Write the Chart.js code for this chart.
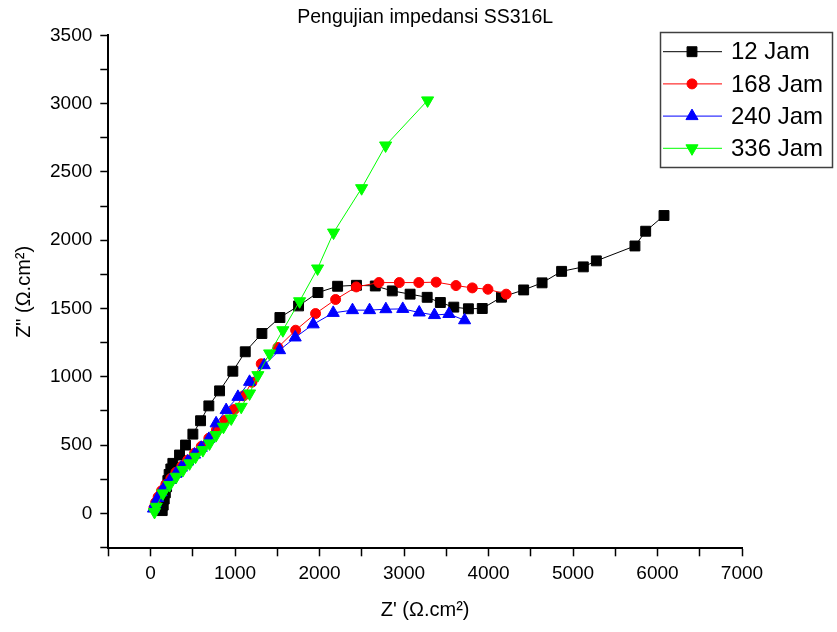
<!DOCTYPE html>
<html lang="id">
<head>
<meta charset="UTF-8">
<title>Pengujian impedansi SS316L</title>
<script src="https://cdn.jsdelivr.net/npm/chart.js"></script>
<style>
  body { margin: 0; background: #fff; }
  #wrap { width: 837px; height: 632px; }
</style>
</head>
<body>
<div id="wrap"><canvas id="nyquist" width="837" height="632"></canvas></div>
<script>
// Z' (x) dan Z'' (y), Ω.cm²
const seriesNames = ['12 Jam', '168 Jam', '240 Jam', '336 Jam'];

const jam12 = [
  [138, 20], [150, 60], [162, 105], [175, 150], [190, 195], [205, 240], [220, 285],
  [240, 325], [264, 366], [343, 427], [414, 500], [501, 580], [592, 678], [690, 787],
  [817, 897], [974, 1041], [1121, 1183], [1318, 1317], [1531, 1434], [1752, 1519],
  [1981, 1617], [2214, 1663], [2437, 1670], [2660, 1665], [2861, 1629], [3072, 1605],
  [3274, 1582], [3430, 1544], [3589, 1510], [3762, 1498], [3926, 1500], [4153, 1583],
  [4416, 1636], [4634, 1688], [4865, 1772], [5122, 1805], [5276, 1849], [5733, 1958],
  [5860, 2066], [6077, 2181]
];
const jam168 = [
  [40, 40], [60, 80], [90, 120], [130, 165], [180, 210], [240, 255], [300, 300],
  [370, 345], [440, 390], [520, 440], [600, 490], [690, 550], [780, 610], [880, 680],
  [990, 760], [1100, 860], [1200, 960], [1310, 1095], [1507, 1215], [1717, 1341],
  [1953, 1463], [2190, 1566], [2435, 1658], [2703, 1690], [2944, 1690], [3175, 1690],
  [3380, 1693], [3615, 1668], [3808, 1651], [3993, 1641], [4209, 1605]
];
const jam240 = [
  [35, 35], [55, 72], [85, 112], [125, 155], [175, 200], [235, 245], [300, 290],
  [365, 335], [440, 380], [520, 430], [600, 480], [690, 545], [776, 659], [895, 756],
  [1034, 853], [1172, 963], [1345, 1085], [1527, 1195], [1712, 1288], [1925, 1384],
  [2162, 1468], [2390, 1488], [2592, 1488], [2785, 1495], [2985, 1497], [3180, 1471],
  [3360, 1452], [3531, 1460], [3717, 1414]
];
const jam336 = [
  [47, 10], [67, 48], [146, 146], [225, 207], [304, 268], [383, 317], [462, 366],
  [532, 414], [619, 463], [698, 512], [776, 573], [863, 634], [955, 695], [1073, 780],
  [1172, 878], [1270, 1012], [1409, 1171], [1566, 1341], [1764, 1553], [1977, 1793],
  [2166, 2056], [2498, 2381], [2782, 2694], [3279, 3024]
];

const xTicks = [-500, 0, 500, 1000, 1500, 2000, 2500, 3000, 3500, 4000, 4500, 5000, 5500, 6000, 6500, 7000];
const yTicks = [-250, 0, 250, 500, 750, 1000, 1250, 1500, 1750, 2000, 2250, 2500, 2750, 3000, 3250, 3500];

const fontFam = '"Liberation Sans", Arial, sans-serif';
Chart.defaults.color = '#000';
Chart.defaults.font.family = fontFam;

function toPts(arr) {
  return arr.map(p => ({ x: p[0], y: p[1] }));
}

// legenda kotak di pojok kanan atas (seperti Origin)
const boxLegend = {
  id: 'boxLegend',
  afterDraw(chart) {
    const ctx = chart.ctx;
    ctx.save();
    ctx.strokeStyle = '#404040';
    ctx.lineWidth = 1.5;
    ctx.strokeRect(660.5, 32.5, 172, 135);
    chart.data.datasets.forEach((ds, i) => {
      const y = 51.7 + i * 32.2;
      ctx.strokeStyle = ds.borderColor;
      ctx.fillStyle = ds.backgroundColor;
      ctx.lineWidth = 1;
      ctx.beginPath();
      ctx.moveTo(663, y);
      ctx.lineTo(722, y);
      ctx.stroke();
      Chart.helpers.drawPoint(ctx, {
        pointStyle: ds.pointStyle,
        radius: ds.pointRadius,
        rotation: ds.pointRotation || 0,
        borderWidth: 1
      }, 692, y);
      ctx.fillStyle = '#000';
      ctx.font = '24px ' + fontFam;
      ctx.textBaseline = 'middle';
      ctx.fillText(ds.label, 731, y + 1);
    });
    ctx.restore();
  }
};

const ctx = document.getElementById('nyquist').getContext('2d');
const nyquistChart = new Chart(ctx, {
  type: 'scatter',
  data: {
    datasets: [
      { label: seriesNames[0], data: toPts(jam12), borderColor: '#000000', backgroundColor: '#000000',
        pointStyle: 'rect', pointRadius: 7, order: 3 },
      { label: seriesNames[1], data: toPts(jam168), borderColor: '#ff0000', backgroundColor: '#ff0000',
        pointStyle: 'circle', pointRadius: 5, order: 2 },
      { label: seriesNames[2], data: toPts(jam240), borderColor: '#0000ff', backgroundColor: '#0000ff',
        pointStyle: 'triangle', pointRadius: 7, order: 1 },
      { label: seriesNames[3], data: toPts(jam336), borderColor: '#00ff00', backgroundColor: '#00ff00',
        pointStyle: 'triangle', pointRotation: 180, pointRadius: 7, order: 0 }
    ].map(ds => Object.assign(ds, { showLine: true, borderWidth: 1, pointBorderWidth: 1, tension: 0 }))
  },
  options: {
    responsive: false,
    animation: false,
    layout: { padding: { left: 0, right: 95, top: 0, bottom: 0 } },
    plugins: {
      legend: { display: false },
      tooltip: { enabled: false },
      title: {
        display: true,
        text: 'Pengujian impedansi SS316L',
        fullSize: false,
        font: { size: 19.5, weight: 'normal' },
        color: '#000',
        padding: { top: 6, bottom: 6 }
      }
    },
    scales: {
      x: {
        type: 'linear',
        min: -500,
        max: 7000,
        afterBuildTicks: s => { s.ticks = xTicks.map(v => ({ value: v })); },
        afterFit: s => { s.height = 83.7; },
        ticks: {
          autoSkip: false,
          maxRotation: 0,
          padding: 6,
          font: { size: 19 },
          callback: v => (v >= 0 && v % 1000 === 0) ? String(v) : ''
        },
        grid: { drawOnChartArea: false, tickLength: 8, tickColor: '#000', tickWidth: 1.5 },
        border: { color: '#000', width: 2 },
        title: { display: true, text: "Z' (Ω.cm²)", font: { size: 20 }, padding: { top: 0, bottom: 10 } }
      },
      y: {
        type: 'linear',
        min: -256,
        max: 3500,
        afterBuildTicks: s => { s.ticks = yTicks.map(v => ({ value: v })); },
        afterFit: s => { s.width = 108.3; },
        ticks: {
          autoSkip: false,
          padding: 8,
          font: { size: 19 },
          callback: v => (v >= 0 && v % 500 === 0) ? String(v) : ''
        },
        grid: { drawOnChartArea: false, tickLength: 8, tickColor: '#000', tickWidth: 1.5 },
        border: { color: '#000', width: 2 },
        title: { display: true, text: 'Z" (Ω.cm²)', font: { size: 20 }, padding: { top: 12, bottom: 0 } }
      }
    }
  },
  plugins: [boxLegend]
});
</script>
</body>
</html>
